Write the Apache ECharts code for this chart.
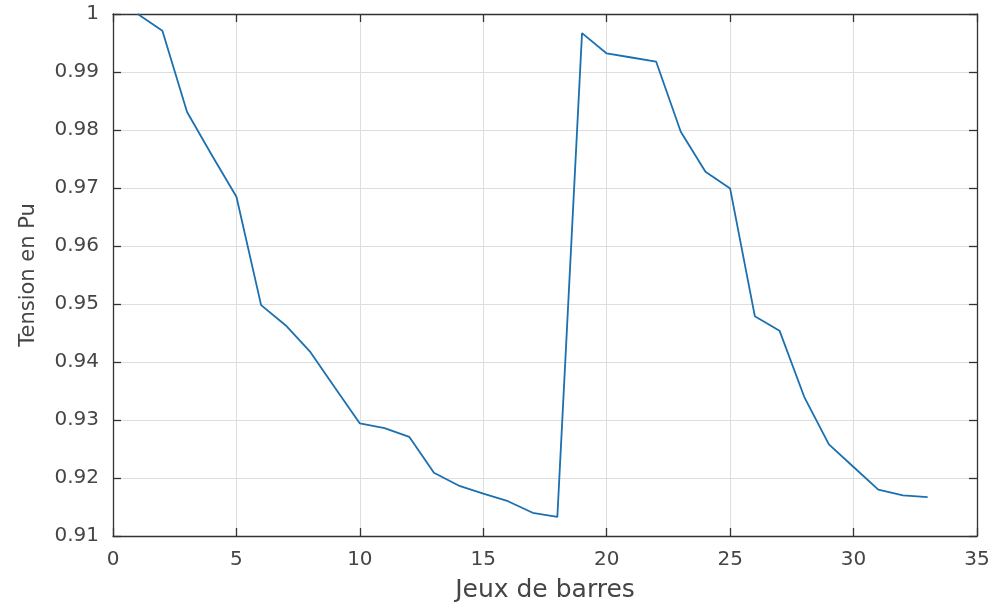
<!DOCTYPE html>
<html>
<head>
<meta charset="utf-8">
<script src="https://cdn.jsdelivr.net/npm/echarts@6/dist/echarts.min.js"></script>
<style>
html,body{margin:0;padding:0;background:#fff;}
#chart{width:998px;height:603px;}
</style>
</head>
<body>
<div id="chart"></div>
<script>
// Bus numbers (Jeux de barres)
const buses = [1,2,3,4,5,6,7,8,9,10,11,12,13,14,15,16,17,18,19,20,21,22,23,24,25,26,27,28,29,30,31,32,33];
// Voltage in p.u. (Tension en Pu)
const voltages = [1.0, 0.9971, 0.9831, 0.9757, 0.9685, 0.9498, 0.9463, 0.9417, 0.9355, 0.9294,
  0.9286, 0.9271, 0.9209, 0.9187, 0.9173, 0.9160, 0.9140, 0.9133, 0.9967, 0.9932,
  0.9925, 0.9918, 0.9797, 0.9728, 0.9699, 0.9479, 0.9454, 0.9340, 0.9258, 0.9219,
  0.9180, 0.9170, 0.9167];
const xTicks = [0,5,10,15,20,25,30,35];
const yTicks = ['0.91','0.92','0.93','0.94','0.95','0.96','0.97','0.98','0.99','1'];
const xTitle = 'Jeux de barres';
const yTitle = 'Tension en Pu';

const fontFam = 'DejaVu Sans';
const txtColor = '#454545';
const axisColor = '#333333';

const xMin = xTicks[0], xMax = xTicks[xTicks.length-1], xStep = xTicks[1]-xTicks[0];
const yMin = parseFloat(yTicks[0]), yMax = parseFloat(yTicks[yTicks.length-1]);
const yStep = 0.01;

const boxAxisX = (pos, main) => ({
  type: 'value', position: pos, min: xMin, max: xMax, interval: xStep,
  name: main ? xTitle : '', nameLocation: 'middle', nameGap: 42,
  nameTextStyle: {fontFamily: fontFam, fontSize: 25, color: txtColor},
  axisLine: {show: true, onZero: false, lineStyle: {color: axisColor, width: 1.3}},
  axisTick: {show: true, inside: true, length: 8, lineStyle: {color: axisColor, width: 1.3}},
  axisLabel: {show: main, margin: 14, fontFamily: fontFam, fontSize: 20, color: txtColor},
  splitLine: {show: main, lineStyle: {color: '#dedede', width: 1}}
});
const boxAxisY = (pos, main) => ({
  type: 'value', position: pos, min: yMin, max: yMax, interval: yStep,
  name: main ? yTitle : '', nameLocation: 'middle', nameGap: 74, nameRotate: 90,
  nameTextStyle: {fontFamily: fontFam, fontSize: 21, color: txtColor},
  axisLine: {show: true, onZero: false, lineStyle: {color: axisColor, width: 1.3}},
  axisTick: {show: true, inside: true, length: 8, lineStyle: {color: axisColor, width: 1.3}},
  axisLabel: {show: main, margin: 14, fontFamily: fontFam, fontSize: 20, color: txtColor,
    formatter: v => String(parseFloat(v.toFixed(2)))},
  splitLine: {show: main, lineStyle: {color: '#dedede', width: 1}}
});

const chart = echarts.init(document.getElementById('chart'), null, {renderer: 'canvas'});
chart.setOption({
  animation: false,
  backgroundColor: '#ffffff',
  grid: {left: 113, right: 21, top: 14, bottom: 67, containLabel: false, outerBoundsMode: 'none'},
  xAxis: [boxAxisX('bottom', true), boxAxisX('top', false)],
  yAxis: [boxAxisY('left', true), boxAxisY('right', false)],
  series: [{
    type: 'line',
    xAxisIndex: 0, yAxisIndex: 0,
    data: buses.map((b, i) => [b, voltages[i]]),
    showSymbol: false,
    lineStyle: {color: '#1b70b0', width: 1.8},
    itemStyle: {color: '#1b70b0'},
    clip: false
  }]
});
</script>
</body>
</html>
